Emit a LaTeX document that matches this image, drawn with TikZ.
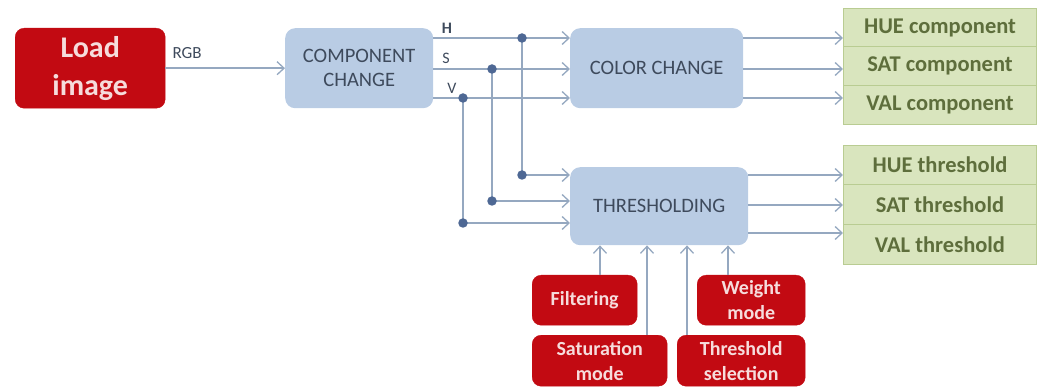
\documentclass[tikz,border=0pt]{standalone}
\usepackage{fontspec}
\setmainfont{Carlito}
\usetikzlibrary{arrows.meta}
\definecolor{redfill}{HTML}{C20A12}
\definecolor{redtext}{HTML}{F6DCDC}
\definecolor{bluefill}{HTML}{B9CCE4}
\definecolor{bluetext}{HTML}{3E4A5C}
\definecolor{linec}{HTML}{95A8C0}
\definecolor{dotc}{HTML}{4E6894}
\definecolor{greenfill}{HTML}{D9E5BE}
\definecolor{greenline}{HTML}{B9CC92}
\definecolor{greentext}{HTML}{5E6E3C}
\begin{document}
\begin{tikzpicture}[x=1pt,y=-1pt,
  redbox/.style={draw=redfill, fill=redfill, rounded corners=9pt, anchor=north west, inner sep=0pt, align=center, text=redtext, font=\fontsize{20}{25}\selectfont\bfseries},
  bluebox/.style={fill=bluefill, rounded corners=10pt, anchor=north west, inner sep=0pt, align=center, text=bluetext, font=\fontsize{20.5}{24}\selectfont},
  greenbox/.style={draw=greenline, line width=1pt, fill=greenfill, anchor=north west, inner sep=0pt, minimum width=193pt, text=greentext, font=\fontsize{22.5}{24}\selectfont\bfseries},
  arr/.style={draw=linec, line width=1.7pt, -{Straight Barb[length=7pt,width=13pt,line width=1.3pt]}},
  ln/.style={draw=linec, line width=1.7pt},
  dot/.style={circle, fill=dotc, inner sep=0pt, minimum size=9.5pt},
  lbl/.style={text=bluetext, font=\fontsize{16}{18}\selectfont}
]
\useasboundingbox (0,0) rectangle (1041,387);

% main boxes
\node[redbox, minimum width=150pt, minimum height=80pt, font=\fontsize{30}{38}\selectfont\bfseries] (load) at (15,28) {Load\\image};
\node[bluebox, minimum width=148pt, minimum height=80pt] (cc) at (285,28) {COMPONENT\\CHANGE};
\node[bluebox, minimum width=173pt, minimum height=80pt] (col) at (570,28) {COLOR CHANGE};
\node[bluebox, minimum width=178pt, minimum height=78pt] (thr) at (570,167) {THRESHOLDING};

% green output boxes
\node[greenbox, minimum height=38pt] (hc) at (843,8) {HUE component};
\node[greenbox, minimum height=39pt] (sc) at (843,46) {SAT component};
\node[greenbox, minimum height=39pt] (vc) at (843,85) {VAL component};
\node[greenbox, minimum height=39pt] (ht) at (843,145) {HUE threshold};
\node[greenbox, minimum height=40pt] (st) at (843,184) {SAT threshold};
\node[greenbox, minimum height=40pt] (vt) at (843,224) {VAL threshold};

% bottom red boxes
\node[redbox, minimum width=105pt, minimum height=50pt] (filt) at (532,275) {Filtering};
\node[redbox, minimum width=108pt, minimum height=50pt] (wm) at (697,275) {Weight\\mode};
\node[redbox, minimum width=135pt, minimum height=51pt] (sm) at (532,335) {Saturation\\mode};
\node[redbox, minimum width=128pt, minimum height=51pt] (ts) at (677,335) {Threshold\\selection};

% RGB
\draw[arr] (load) -- (cc) node[lbl, pos=0, anchor=south west, xshift=3pt, yshift=5pt, font=\fontsize{17}{18}\selectfont] {RGB};

% H S V rows
\coordinate (yH) at (0,38);
\coordinate (yS) at (0,69);
\coordinate (yV) at (0,98);
\draw[arr] (cc.east|-yH) -- (col.west|-yH);
\draw[arr] (cc.east|-yS) -- (col.west|-yS);
\draw[arr] (cc.east|-yV) -- (col.west|-yV);
\node[lbl, font=\fontsize{16}{18}\selectfont\bfseries] (lH) at (447,28) {H};
\node[lbl] (lS) at (446,58) {S};
\node[lbl] (lV) at (452,88) {V};

% outputs of color change
\draw[arr] (col.east|-yH) -- (hc.west|-yH);
\draw[arr] (col.east|-yS) -- (sc.west|-yS);
\draw[arr] (col.east|-yV) -- (vc.west|-yV);

% branches to thresholding
\coordinate (dH) at (522,38);
\coordinate (dS) at (492,69);
\coordinate (dV) at (463,98);
\coordinate (tH) at (0,175);
\coordinate (tS) at (0,201);
\coordinate (tV) at (0,223);
\coordinate (eH) at (522,175);
\coordinate (eS) at (492,201);
\coordinate (eV) at (463,223);
\draw[ln] (dH) -- (eH);
\draw[ln] (dS) -- (eS);
\draw[ln] (dV) -- (eV);
\draw[arr] (eH) -- (thr.west|-tH);
\draw[arr] (eS) -- (thr.west|-tS);
\draw[arr] (eV) -- (thr.west|-tV);
\node[dot] (dotdH) at (dH) {};
\node[dot] (dotdS) at (dS) {};
\node[dot] (dotdV) at (dV) {};
\node[dot] (doteH) at (eH) {};
\node[dot] (doteS) at (eS) {};
\node[dot] (doteV) at (eV) {};

% outputs of thresholding
\coordinate (oH) at (0,175);
\coordinate (oS) at (0,205);
\coordinate (oV) at (0,233);
\draw[arr] (thr.east|-oH) -- (ht.west|-oH);
\draw[arr] (thr.east|-oS) -- (st.west|-oS);
\draw[arr] (thr.east|-oV) -- (vt.west|-oV);

% inputs from bottom
\coordinate (x1) at (600,0);
\coordinate (x2) at (647,0);
\coordinate (x3) at (687,0);
\coordinate (x4) at (728,0);
\draw[arr] (filt.north-|x1) -- (thr.south-|x1);
\draw[arr] (sm.north-|x2) -- (thr.south-|x2);
\draw[arr] (ts.north-|x3) -- (thr.south-|x3);
\draw[arr] (wm.north-|x4) -- (thr.south-|x4);
\end{tikzpicture}
\end{document}
